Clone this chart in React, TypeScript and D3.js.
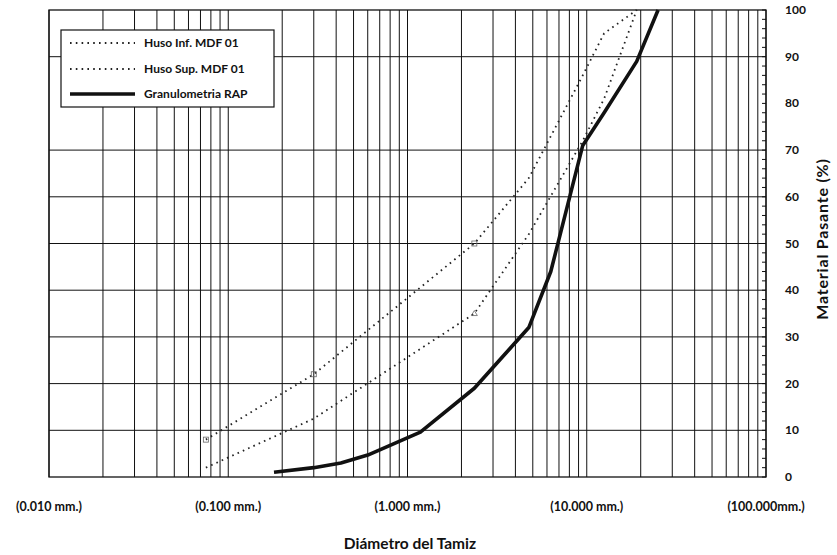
import React from "react";
import * as d3 from "d3";

// tamices de los husos (mm) y % pasante
const husoSizes = [0.075, 0.3, 2.36, 4.75, 9.5, 12.5, 19];
const husoInf = [2, 12.5, 35, 52, 72, 81, 100];
const husoSup = [8, 22, 50, 64, 86, 95, 100];

// granulometria del RAP
const rapSizes = [0.18, 0.3, 0.425, 0.6, 1.18, 2.36, 4.75, 6.3, 9.5, 12.5, 19, 25];
const rapPasante = [1, 2, 3, 4.7, 9.6, 19, 32, 44, 71, 78, 89, 100];

const xTickValues = [0.01, 0.1, 1, 10, 100];
const xTickLabels = ["(0.010 mm.)", "(0.100 mm.)", "(1.000 mm.)", "(10.000 mm.)", "(100.000mm.)"];
const yTickValues = [0, 10, 20, 30, 40, 50, 60, 70, 80, 90, 100];
const yGridValues = [10, 20, 30, 40, 50, 60, 70, 90]; // la linea de 80 no aparece en el original
const legendLabels = ["Huso Inf. MDF 01", "Huso Sup. MDF 01", "Granulometria RAP"];

const W = 837;
const H = 555;
const plot = { left: 49, right: 766, top: 10, bottom: 477 };
const font = "Lato, 'Open Sans', sans-serif";

const App: React.FC = () => {
  const x = d3.scaleLog().domain([0.01, 100]).range([plot.left, plot.right]);
  const y = d3.scaleLinear().domain([0, 100]).range([plot.bottom, plot.top]);

  // lineas verticales 1..9 de cada decada
  const vGrid: number[] = [];
  [0.01, 0.1, 1, 10].forEach((d) => {
    for (let k = 1; k <= 9; k++) vGrid.push(k * d);
  });
  vGrid.push(100);

  const minorTicks = d3.range(0, 101, 2);

  const line = d3
    .line<[number, number]>()
    .x((d) => x(d[0]))
    .y((d) => y(d[1]));

  const infPts = husoSizes.map((s, i) => [s, husoInf[i]] as [number, number]);
  const supPts = husoSizes.map((s, i) => [s, husoSup[i]] as [number, number]);
  const rapPts = rapSizes.map((s, i) => [s, rapPasante[i]] as [number, number]);

  const dotted = { stroke: "#222", strokeWidth: 1.8, strokeDasharray: "1.6,4.2", fill: "none" };

  const legendY = [43, 69, 94];

  return (
    <svg
      width={W}
      height={H}
      style={{ position: "absolute", left: 0, top: 0, background: "#fff" }}
      fontFamily={font}
    >
      <rect width={W} height={H} fill="#fff" />

      {/* grid vertical */}
      {vGrid.map((v, i) => (
        <line key={"v" + i} x1={x(v)} x2={x(v)} y1={plot.top} y2={plot.bottom} stroke="#111" strokeWidth={1} />
      ))}
      {/* grid horizontal */}
      {yGridValues.map((v) => (
        <line key={"h" + v} x1={plot.left} x2={plot.right} y1={y(v)} y2={y(v)} stroke="#111" strokeWidth={1} />
      ))}
      {/* marco */}
      <rect
        x={plot.left}
        y={plot.top}
        width={plot.right - plot.left}
        height={plot.bottom - plot.top}
        fill="none"
        stroke="#111"
        strokeWidth={1.3}
      />
      {minorTicks.map((t) => (
        <line key={"t" + t} x1={plot.right - 4} x2={plot.right} y1={y(t)} y2={y(t)} stroke="#111" strokeWidth={1} />
      ))}

      {/* husos */}
      <path d={line(infPts) ?? ""} {...dotted} />
      <path d={line(supPts) ?? ""} {...dotted} />
      {supPts.slice(0, 3).map((p, i) => (
        <rect key={"ms" + i} x={x(p[0]) - 2.5} y={y(p[1]) - 2.5} width={5} height={5} fill="none" stroke="#666" strokeWidth={0.8} />
      ))}
      {infPts.slice(2, 3).map((p, i) => (
        <path
          key={"mi" + i}
          d={`M${x(p[0]) - 3},${y(p[1]) + 2}L${x(p[0])},${y(p[1]) - 3}L${x(p[0]) + 3},${y(p[1]) + 2}Z`}
          fill="none"
          stroke="#666"
          strokeWidth={0.8}
        />
      ))}

      {/* RAP */}
      <path d={line(rapPts) ?? ""} fill="none" stroke="#111" strokeWidth={3.6} strokeLinejoin="round" />

      {/* eje x */}
      {xTickValues.map((v, i) => (
        <text key={"xl" + i} x={x(v)} y={511} textAnchor="middle" fontSize={12.5} fontWeight="bold" fill="#111">
          {xTickLabels[i]}
        </text>
      ))}
      <text x={410} y={549} textAnchor="middle" fontSize={15.5} fontWeight="bold" fill="#111">
        Diámetro del Tamiz
      </text>

      {/* eje y (derecha) */}
      {yTickValues.map((v) => (
        <text key={"yl" + v} x={785} y={y(v) + 4} textAnchor="start" fontSize={12} fontWeight="bold" fill="#111">
          {v}
        </text>
      ))}
      <text
        transform={`translate(828, 239) rotate(-90)`}
        textAnchor="middle"
        fontSize={16}
        fontWeight="bold"
        letterSpacing={0.8}
        fill="#111"
      >
        Material Pasante (%)
      </text>

      {/* leyenda */}
      <rect x={61} y={30} width={213} height={77} fill="#fff" stroke="#111" strokeWidth={1.2} />
      <line x1={70} x2={135} y1={legendY[0]} y2={legendY[0]} {...dotted} />
      <line x1={70} x2={135} y1={legendY[1]} y2={legendY[1]} {...dotted} />
      <line x1={70} x2={135} y1={legendY[2]} y2={legendY[2]} stroke="#111" strokeWidth={3.6} />
      {legendLabels.map((l, i) => (
        <text key={"lg" + i} x={144} y={legendY[i] + 4} fontSize={12} fontWeight="bold" fill="#111">
          {l}
        </text>
      ))}
    </svg>
  );
};

export default App;
